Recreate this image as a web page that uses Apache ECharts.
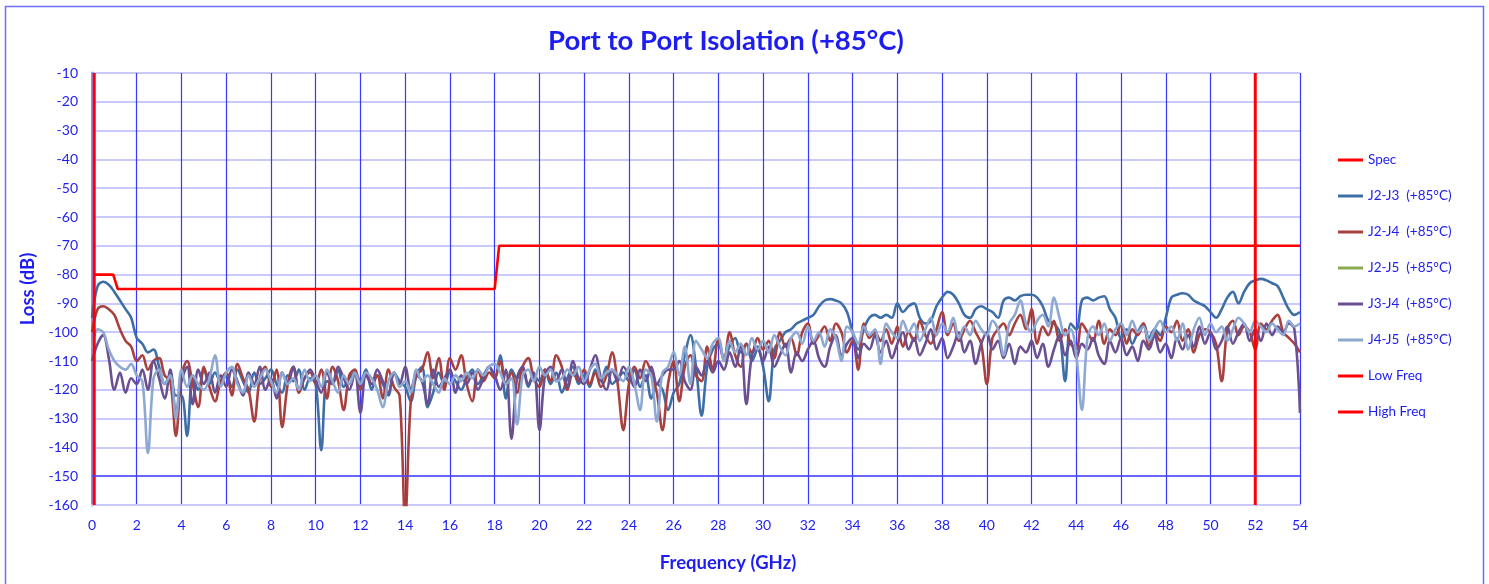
<!DOCTYPE html>
<html>
<head>
<meta charset="utf-8">
<script src="https://cdn.jsdelivr.net/npm/echarts@6/dist/echarts.min.js"></script>
<style>
  html, body { margin: 0; padding: 0; background: #fff; }
  #chart { width: 1489px; height: 584px; }
</style>
</head>
<body>
<div id="chart"></div>
<script>
// sweep grid: 0 .. 54 GHz, 0.25 GHz step (217 points)
const freqStep = 0.25;
const freqCount = 217;

// one row = 2 GHz (8 points), last value is 54 GHz
const j2j3 = [
  -95, -84, -82.5, -83.5, -86, -89, -92, -95,
  -102, -104, -107, -106, -112, -118, -115, -122,
  -122, -136, -116, -120, -113, -118, -114, -117,
  -115, -119, -113, -117, -121, -114, -118, -116,
  -113, -118, -121, -115, -117, -113, -120, -116,
  -118, -141, -117, -118, -113, -119, -116, -114,
  -117, -113, -120, -115, -118, -122, -114, -117,
  -119, -124, -115, -112, -126, -121, -114, -118,
  -114, -117, -120, -116, -113, -118, -115, -112,
  -116, -108, -123, -113, -116, -112, -119, -115,
  -117, -113, -118, -114, -121, -116, -112, -118,
  -115, -119, -113, -117, -112, -118, -116, -114,
  -117, -113, -119, -115, -123, -118, -120, -127,
  -121, -118, -108, -101, -112, -129, -112, -106,
  -104, -109, -105, -102, -107, -104, -110, -106,
  -112, -124, -106, -103, -100, -99, -97, -96,
  -95, -94, -91, -89, -88.5, -89, -90, -93,
  -100, -106, -99, -95, -94, -95, -94, -95,
  -90, -93, -91, -90, -95, -97, -96, -91,
  -88, -86, -87, -90, -94, -95, -92, -91,
  -92, -93, -95, -89, -88, -89, -87.5, -87,
  -87, -88, -91, -96, -97, -100, -117, -97,
  -99, -89, -88, -89, -88, -87.5, -92, -95,
  -102, -99, -104, -100, -97, -102, -99, -101,
  -95, -88, -87, -86.5, -87, -89, -90, -91,
  -93, -95, -92, -88, -86, -90, -86, -83,
  -82, -81.5, -82, -83, -84, -88, -92, -94,
  -93
];

const j2j4 = [
  -100, -92, -91, -92, -94, -99, -103, -105,
  -110, -108, -113, -110, -109, -115, -117, -136,
  -115, -110, -118, -126, -112, -119, -124, -117,
  -114, -122, -111, -116, -120, -131, -116, -112,
  -119, -113, -133, -118, -112, -121, -116, -114,
  -118, -113, -123, -112, -117, -127, -115, -113,
  -120, -114, -118, -115, -123, -113, -119, -122,
  -165, -124, -115, -113, -107, -116, -109, -120,
  -109, -113, -108, -118, -124, -113, -117, -114,
  -116, -110, -118, -114, -121, -112, -109, -116,
  -119, -113, -117, -108, -112, -120, -114, -117,
  -113, -118, -114, -119, -115, -107, -118, -134,
  -118, -112, -116, -110, -114, -121, -134, -118,
  -110, -124, -112, -108, -115, -117, -105, -113,
  -102, -110, -100, -108, -112, -104, -107, -102,
  -106, -103, -109, -100, -105, -102, -108, -100,
  -97, -104, -101, -98, -103, -97, -100, -107,
  -103, -113, -97, -102, -100, -103, -99, -104,
  -98, -105, -100, -103, -96, -101, -104, -99,
  -93, -101, -97, -103, -99, -96, -100, -104,
  -118, -102, -99, -97, -101, -97, -94, -99,
  -92, -104, -98, -101, -96, -103, -99, -104,
  -106, -97, -100, -103, -96, -104, -99, -101,
  -97, -104, -99, -101, -97, -105, -100, -103,
  -98, -100, -96, -103, -99, -107, -101, -99,
  -100, -104, -117, -99, -96, -101, -98, -100,
  -106, -97, -99, -96, -94, -100, -102, -104,
  -107
];

const j2j5 = [];

const j3j4 = [
  -110, -104, -101, -109, -120, -114, -121, -116,
  -118, -113, -120, -110, -116, -123, -113, -128,
  -117, -112, -125, -113, -118, -114, -121, -115,
  -119, -113, -117, -122, -114, -118, -112, -120,
  -116, -123, -114, -118, -112, -120, -116, -113,
  -117, -121, -114, -118, -112, -116, -120, -114,
  -128, -115, -118, -113, -117, -121, -114, -118,
  -112, -120, -115, -117, -125, -113, -119, -116,
  -113, -121, -115, -118, -114, -120, -116, -112,
  -115, -120, -113, -137, -116, -112, -118, -114,
  -134, -115, -112, -117, -113, -119, -110, -116,
  -118, -113, -108, -116, -120, -113, -117, -112,
  -115, -119, -113, -117, -112, -118, -115, -113,
  -113, -110, -117, -120, -112, -115, -110, -114,
  -110, -113, -107, -112, -104, -125, -108, -105,
  -110, -105, -112, -108, -104, -114, -107, -110,
  -106, -103, -109, -112, -105, -101, -108, -104,
  -102, -109, -104, -106, -101, -107, -103, -109,
  -104, -100, -106, -102, -108, -104, -99, -106,
  -102, -109, -105, -100, -107, -103, -111, -104,
  -100, -106, -103, -109, -104, -111, -105, -107,
  -103, -109, -104, -112, -106, -101, -108, -103,
  -109, -104, -106, -102, -108, -111, -103, -107,
  -102, -108, -105, -110, -103, -106, -101, -107,
  -104, -109, -102, -106, -101, -105, -98, -104,
  -100, -106, -103, -98, -104, -100, -97, -103,
  -99, -103, -97, -101, -98, -100, -97, -99,
  -128
];

const j4j5 = [
  -106, -99, -100, -106, -110, -112, -113, -111,
  -115, -117, -142, -116, -113, -118, -115, -130,
  -113, -119, -115, -118, -120, -116, -108, -119,
  -114, -112, -118, -121, -115, -119, -116, -113,
  -117, -121, -114, -118, -116, -120, -113, -117,
  -115, -119, -113, -117, -121, -115, -118, -114,
  -118, -114, -116, -120, -126, -117, -114, -119,
  -117, -121, -113, -117, -115, -118, -121, -116,
  -118, -115, -117, -114, -116, -113, -115, -112,
  -111, -114, -118, -116, -132, -115, -113, -117,
  -112, -115, -113, -117, -116, -113, -115, -112,
  -117, -113, -111, -116, -114, -113, -115, -117,
  -112, -118, -127, -113, -115, -131, -114, -112,
  -107, -115, -105, -118, -103, -106, -109, -104,
  -102, -110, -103, -107, -104, -108, -102, -106,
  -103, -107, -101, -105, -108, -102, -100, -104,
  -98, -103, -100, -105, -99, -102, -110, -98,
  -100, -104, -98, -101, -99, -111, -97, -100,
  -102, -96, -100, -97, -103, -99, -95, -101,
  -97, -100, -95, -102, -98, -101, -96, -99,
  -101, -96, -99, -108, -97, -94, -89, -97,
  -100, -96, -94, -98, -88, -95, -101, -99,
  -108, -127, -102, -98, -101, -97, -103, -99,
  -97, -101, -96, -100, -98, -103, -99, -96,
  -100, -98, -103, -97, -106, -99, -95, -101,
  -97, -100, -98, -103, -99, -95, -97, -100,
  -96, -98, -100, -97, -99, -101, -96, -98,
  -97
];

// limit lines (GHz, dB)
const specFreq = [0.1, 0.95, 1.15, 18.0, 18.2, 54];
const specLoss = [-80, -80, -85, -85, -70, -70];
const lowFreq = 0.1;
const highFreq = 52;

const legendNames = ["Spec", "J2-J3  (+85°C)", "J2-J4  (+85°C)", "J2-J5  (+85°C)",
  "J3-J4  (+85°C)", "J4-J5  (+85°C)", "Low Freq", "High Freq"];

const freq = [];
for (let i = 0; i < freqCount; i++) freq.push(i * freqStep);

function pairs(values) {
  return values.map((v, i) => [freq[i], v]);
}

const chartDom = document.getElementById("chart");
const myChart = echarts.init(chartDom);
const font = "Lato";
const blue = "#1d1df2";

function measured(name, data, color) {
  return {
    name: name,
    type: "line",
    data: pairs(data),
    smooth: 0.35,
    showSymbol: false,
    symbol: "none",
    lineStyle: { color: color, width: 2.6 },
    itemStyle: { color: color },
  };
}

const option = {
  animation: false,
  backgroundColor: "#fff",
  textStyle: { fontFamily: font },
  graphic: [
    {
      type: "rect",
      shape: { x: 5.5, y: 6.5, width: 1478, height: 600 },
      style: { fill: "none", stroke: "#6d6dfa", lineWidth: 1.5 },
      silent: true,
    },
  ],
  title: {
    text: "Port to Port Isolation (+85°C)",
    left: 721,
    top: 22,
    textAlign: "center",
    textStyle: { color: blue, fontSize: 27.5, fontWeight: "bold", fontFamily: font },
  },
  legend: {
    data: legendNames,
    orient: "vertical",
    left: 1333,
    top: 148,
    itemWidth: 25,
    itemHeight: 3,
    itemGap: 22,
    icon: "rect",
    textStyle: { color: blue, fontSize: 13.5, fontFamily: font },
  },
  grid: { left: 92, right: 189, top: 73, bottom: 79 },
  xAxis: {
    type: "value",
    min: 0,
    max: 54,
    interval: 2,
    name: "Frequency (GHz)",
    nameLocation: "middle",
    nameGap: 49,
    nameTextStyle: { color: blue, fontSize: 18.5, fontWeight: "bold", padding: [0, 0, 0, 64] },
    axisLine: { lineStyle: { color: "#c9c9fb", width: 2 } },
    axisTick: { show: false },
    axisLabel: { color: blue, fontSize: 14, margin: 13 },
    splitLine: { show: true, lineStyle: { color: "#3838ff", width: 1.2 } },
  },
  yAxis: {
    type: "value",
    min: -160,
    max: -10,
    interval: 10,
    name: "Loss (dB)",
    nameLocation: "middle",
    nameGap: 42,
    nameTextStyle: { color: blue, fontSize: 18.5, fontWeight: "bold" },
    axisLine: { show: true, lineStyle: { color: "#8c8cff", width: 3 } },
    axisTick: { show: false },
    axisLabel: { color: blue, fontSize: 14, margin: 14 },
    splitLine: { show: true, lineStyle: { color: "#c9c9fb", width: 2 } },
  },
  series: [
    {
      name: "Spec",
      type: "line",
      data: specFreq.map((f, i) => [f, specLoss[i]]),
      showSymbol: false,
      symbol: "none",
      lineStyle: { color: "#ff0000", width: 2.6 },
      itemStyle: { color: "#ff0000" },
      markLine: {
        silent: true,
        symbol: "none",
        label: { show: false },
        lineStyle: { color: "#4646ff", width: 1.5, type: "solid" },
        data: [{ yAxis: -150 }],
      },
      z: 3,
    },
    measured("J2-J3  (+85°C)", j2j3, "#3d6ea6"),
    measured("J2-J4  (+85°C)", j2j4, "#a8403d"),
    measured("J2-J5  (+85°C)", j2j5, "#8ba94f"),
    measured("J3-J4  (+85°C)", j3j4, "#6a4f91"),
    measured("J4-J5  (+85°C)", j4j5, "#8ea9d1"),
    {
      name: "Low Freq",
      type: "line",
      data: [[lowFreq, -10], [lowFreq, -160]],
      showSymbol: false,
      symbol: "none",
      lineStyle: { color: "#ff0000", width: 3 },
      itemStyle: { color: "#ff0000" },
      z: 4,
    },
    {
      name: "High Freq",
      type: "line",
      data: [[highFreq, -10], [highFreq, -160]],
      showSymbol: false,
      symbol: "none",
      lineStyle: { color: "#ff0000", width: 3 },
      itemStyle: { color: "#ff0000" },
      z: 4,
    },
  ],
};
myChart.setOption(option);
</script>
</body>
</html>
